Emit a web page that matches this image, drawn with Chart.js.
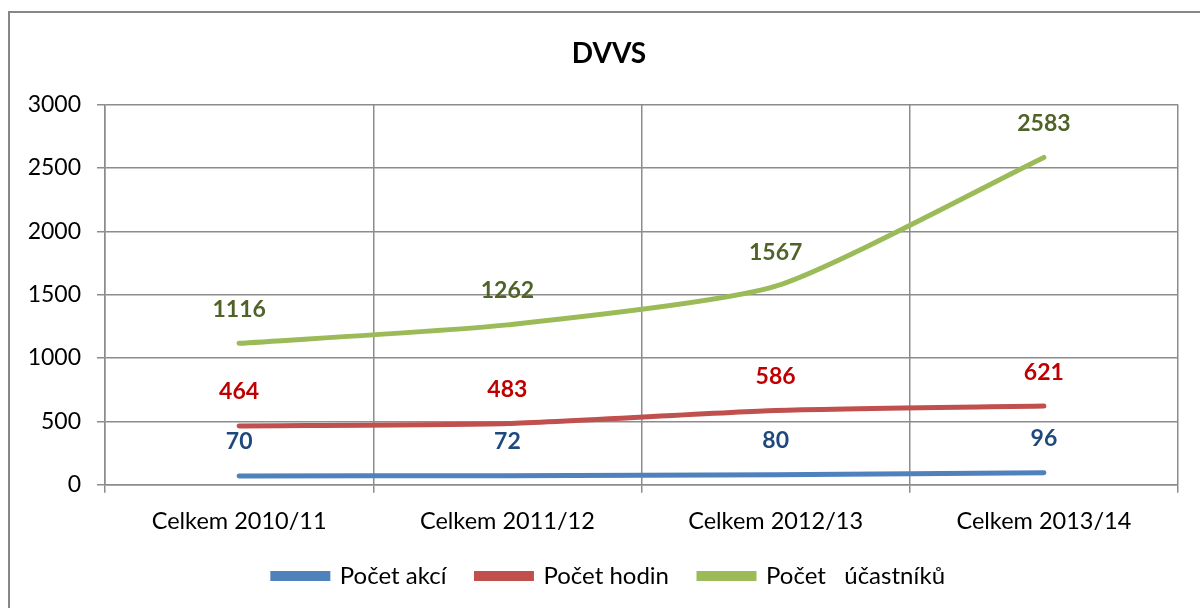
<!DOCTYPE html>
<html>
<head>
<meta charset="utf-8">
<script src="https://cdn.jsdelivr.net/npm/chart.js@4"></script>
<style>
  body { margin: 0; background: #fff; }
  #wrap { position: relative; width: 1200px; height: 608px; overflow: hidden; }
  #frame { position: absolute; left: 8px; top: 11px; width: 1300px; height: 700px; border: 2px solid #878787; box-sizing: border-box; }
  canvas { position: absolute; left: 0; top: 0; }
</style>
</head>
<body>
<div id="wrap">
  <div id="frame"></div>
  <canvas id="chart" width="1200" height="608"></canvas>
</div>
<script>
// --- Data ---
const categories = ['Celkem 2010/11', 'Celkem 2011/12', 'Celkem 2012/13', 'Celkem 2013/14'];
const pocetAkci = [70, 72, 80, 96];
const pocetHodin = [464, 483, 586, 621];
const pocetUcastniku = [1116, 1262, 1567, 2583];
const yTicks = [0, 500, 1000, 1500, 2000, 2500, 3000];

const FONT = 'Lato, "Open Sans", sans-serif';

// draws the value above each point, coloured per series
const valueLabels = {
    id: 'valueLabels',
    afterDatasetsDraw(chart) {
        const ctx = chart.ctx;
        ctx.save();
        ctx.font = 'bold 23px ' + FONT;
        ctx.textAlign = 'center';
        ctx.textBaseline = 'middle';
        chart.data.datasets.forEach((ds, i) => {
            const meta = chart.getDatasetMeta(i);
            ctx.fillStyle = ds.labelColor;
            meta.data.forEach((pt, j) => {
                ctx.fillText(String(ds.data[j]), pt.x, pt.y - 34);
            });
        });
        ctx.restore();
    }
};

const ctx = document.getElementById('chart').getContext('2d');
new Chart(ctx, {
    type: 'line',
    data: {
        labels: categories,
        datasets: [
            { label: 'Počet akcí', data: pocetAkci, borderColor: '#4F81BD', backgroundColor: '#4F81BD', labelColor: '#1F497D' },
            { label: 'Počet hodin', data: pocetHodin, borderColor: '#C0504D', backgroundColor: '#C0504D', labelColor: '#C00000' },
            { label: 'Počet   účastníků', data: pocetUcastniku, borderColor: '#9BBB59', backgroundColor: '#9BBB59', labelColor: '#4F6228' }
        ]
    },
    options: {
        responsive: false,
        animation: false,
        elements: {
            line: { borderWidth: 5, tension: 0.2, borderCapStyle: 'round', fill: false },
            point: { radius: 0, hoverRadius: 0 }
        },
        // the chart frame runs past the right edge, so title and legend sit right of page centre
        layout: { padding: { top: 37, right: -18, bottom: 10, left: 0 } },
        scales: {
            x: {
                offset: true,
                afterFit: s => { s.height -= 17; },
                grid: { offset: true, color: '#8c8c8c', lineWidth: 1.5, tickLength: 8, drawTicks: true },
                border: { color: '#8c8c8c', width: 1.5 },
                ticks: { color: '#000', font: { family: FONT, size: 23.5 }, padding: 15 }
            },
            y: {
                min: 0,
                max: 3000,
                afterBuildTicks: s => { s.ticks = yTicks.map(v => ({ value: v })); },
                afterFit: s => { s.width = 105; },
                grid: { color: '#8c8c8c', lineWidth: 1.5, tickLength: 8 },
                border: { color: '#8c8c8c', width: 1.5 },
                ticks: { color: '#000', font: { family: FONT, size: 23 }, padding: 16, callback: v => String(v) }
            },
            spacer: {
                type: 'linear',
                position: 'right',
                afterFit: s => { s.width = 40; },
                grid: { display: false, drawTicks: false },
                border: { display: false },
                ticks: { display: false }
            }
        },
        plugins: {
            title: {
                display: true,
                text: 'DVVS',
                color: '#000',
                font: { family: FONT, size: 28, weight: 'bold' },
                padding: { top: 0, bottom: 34 }
            },
            legend: {
                position: 'bottom',
                labels: {
                    color: '#000',
                    font: { family: FONT, size: 24 },
                    boxWidth: 55,
                    boxHeight: 5,
                    padding: 30
                }
            },
            tooltip: { enabled: false }
        }
    },
    plugins: [valueLabels]
});
</script>
</body>
</html>
